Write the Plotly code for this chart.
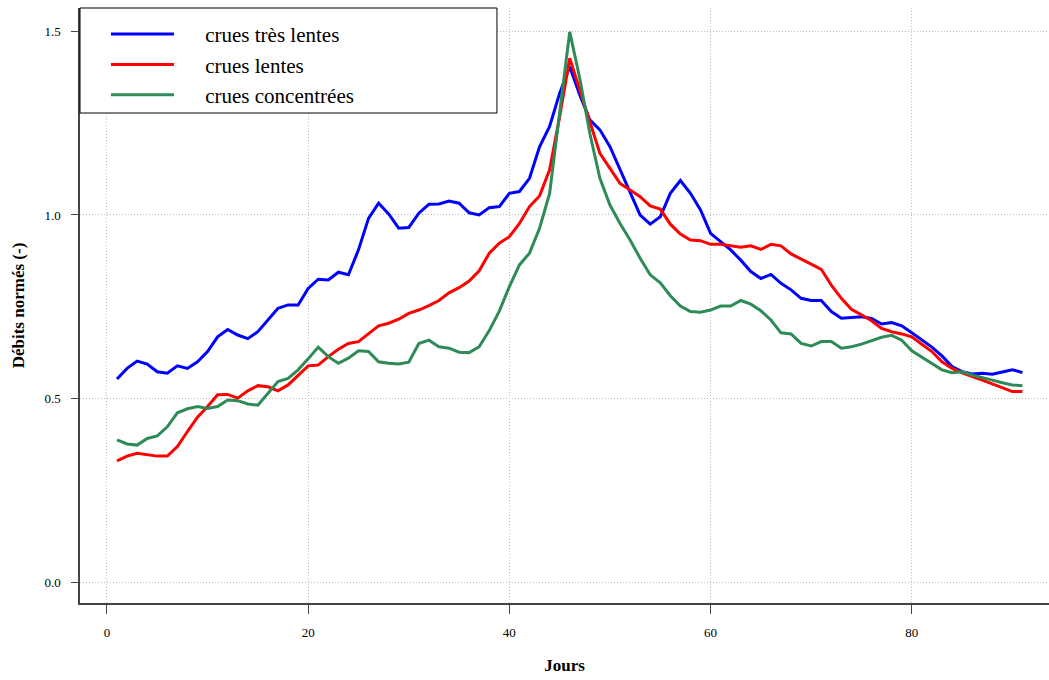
import plotly.graph_objects as go

jours = list(range(1, 92))

tres_lentes = [0.553, 0.582, 0.602, 0.594, 0.573, 0.569, 0.589, 0.582, 0.600, 0.628,
               0.668, 0.688, 0.673, 0.663, 0.682, 0.714, 0.746, 0.755, 0.755, 0.800,
               0.825, 0.823, 0.844, 0.837, 0.905, 0.991, 1.032, 1.003, 0.964, 0.966,
               1.005, 1.029, 1.030, 1.038, 1.032, 1.006, 1.000, 1.020, 1.023, 1.059,
               1.064, 1.100, 1.186, 1.241, 1.332, 1.404, 1.327, 1.259, 1.232, 1.186,
               1.123, 1.059, 1.000, 0.975, 0.995, 1.059, 1.094, 1.059, 1.014, 0.950,
               0.927, 0.905, 0.877, 0.846, 0.827, 0.838, 0.814, 0.796, 0.773, 0.767,
               0.767, 0.737, 0.719, 0.721, 0.723, 0.718, 0.703, 0.707, 0.698, 0.679,
               0.659, 0.640, 0.616, 0.587, 0.573, 0.567, 0.569, 0.566, 0.572, 0.578,
               0.571]

lentes = [0.330, 0.343, 0.351, 0.346, 0.343, 0.343, 0.369, 0.410, 0.449, 0.478,
          0.510, 0.511, 0.501, 0.521, 0.535, 0.532, 0.521, 0.537, 0.564, 0.589,
          0.591, 0.614, 0.634, 0.650, 0.655, 0.676, 0.698, 0.705, 0.716, 0.732,
          0.741, 0.753, 0.767, 0.788, 0.802, 0.820, 0.848, 0.896, 0.923, 0.941,
          0.977, 1.023, 1.052, 1.123, 1.268, 1.427, 1.341, 1.250, 1.168, 1.127,
          1.086, 1.068, 1.050, 1.025, 1.016, 0.975, 0.948, 0.932, 0.930, 0.920,
          0.920, 0.916, 0.912, 0.916, 0.906, 0.920, 0.916, 0.894, 0.879, 0.866,
          0.852, 0.809, 0.773, 0.743, 0.728, 0.712, 0.691, 0.682, 0.676, 0.668,
          0.648, 0.628, 0.600, 0.582, 0.570, 0.559, 0.550, 0.540, 0.530, 0.519,
          0.519]

concentrees = [0.387, 0.376, 0.373, 0.391, 0.398, 0.423, 0.461, 0.472, 0.478, 0.473,
               0.478, 0.496, 0.494, 0.485, 0.482, 0.514, 0.546, 0.555, 0.578, 0.608,
               0.640, 0.614, 0.596, 0.610, 0.630, 0.628, 0.600, 0.596, 0.594, 0.599,
               0.650, 0.659, 0.641, 0.637, 0.626, 0.625, 0.641, 0.685, 0.738, 0.805,
               0.864, 0.896, 0.964, 1.059, 1.277, 1.499, 1.372, 1.222, 1.100, 1.027,
               0.977, 0.932, 0.882, 0.837, 0.815, 0.780, 0.752, 0.737, 0.735, 0.741,
               0.752, 0.752, 0.767, 0.757, 0.739, 0.714, 0.679, 0.676, 0.650, 0.643,
               0.655, 0.655, 0.637, 0.641, 0.648, 0.658, 0.667, 0.672, 0.659, 0.630,
               0.612, 0.594, 0.578, 0.570, 0.573, 0.564, 0.558, 0.550, 0.543, 0.537,
               0.535]

series_names = ["crues très lentes", "crues lentes", "crues concentrées"]
series_colors = ["#0000FF", "#FF0000", "#2E8B57"]
x_ticks = [0, 20, 40, 60, 80]
y_ticks = [0.0, 0.5, 1.0, 1.5]
y_ticklabels = ["0.0", "0.5", "1.0", "1.5"]

fig = go.Figure()
for name, vals, col in zip(series_names, [tres_lentes, lentes, concentrees], series_colors):
    fig.add_trace(go.Scatter(x=jours, y=vals, mode="lines",
                             name="\u00a0" * 5 + name,
                             line=dict(color=col, width=3)))

serif = "Liberation Serif, Times New Roman, serif"

# legend frame (box drawn behind the native legend)
fig.add_shape(type="rect", xref="paper", yref="paper",
              x0=0, x1=0.4303, y0=0.8235, y1=1.0,
              line=dict(color="black", width=1), fillcolor="white", layer="above")

fig.update_layout(
    width=1049, height=680,
    margin=dict(l=80, r=0, t=8, b=77),
    paper_bgcolor="white", plot_bgcolor="white",
    font=dict(family=serif, color="black"),
    showlegend=True,
    legend=dict(
        x=0.0268, y=0.99, xanchor="left", yanchor="top",
        bgcolor="rgba(0,0,0,0)", borderwidth=0,
        font=dict(family=serif, size=21, color="black"),
        itemwidth=63, tracegroupgap=0,
    ),
    xaxis=dict(
        range=[-2.68, 93.64], tickvals=x_ticks,
        showgrid=True, gridcolor="#BEBEBE", griddash="1px,2px", gridwidth=1,
        zeroline=False, showline=True, linecolor="#444444", linewidth=1.5,
        ticks="outside", ticklen=9, tickcolor="#444444",
        ticklabelstandoff=8,
        tickfont=dict(family=serif, size=13),
        title=dict(text="<b>Jours</b>", font=dict(family=serif, size=17), standoff=20),
    ),
    yaxis=dict(
        range=[-0.0572, 1.564], tickvals=y_ticks, ticktext=y_ticklabels,
        showgrid=True, gridcolor="#BEBEBE", griddash="1px,2px", gridwidth=1,
        zeroline=False, showline=True, linecolor="#444444", linewidth=1.5,
        ticks="outside", ticklen=7, tickcolor="#444444",
        ticklabelstandoff=8,
        tickfont=dict(family=serif, size=13),
        title=dict(text="<b>Débits normés (-)</b>", font=dict(family=serif, size=17), standoff=15),
    ),
)

fig.write_html("out.html")
